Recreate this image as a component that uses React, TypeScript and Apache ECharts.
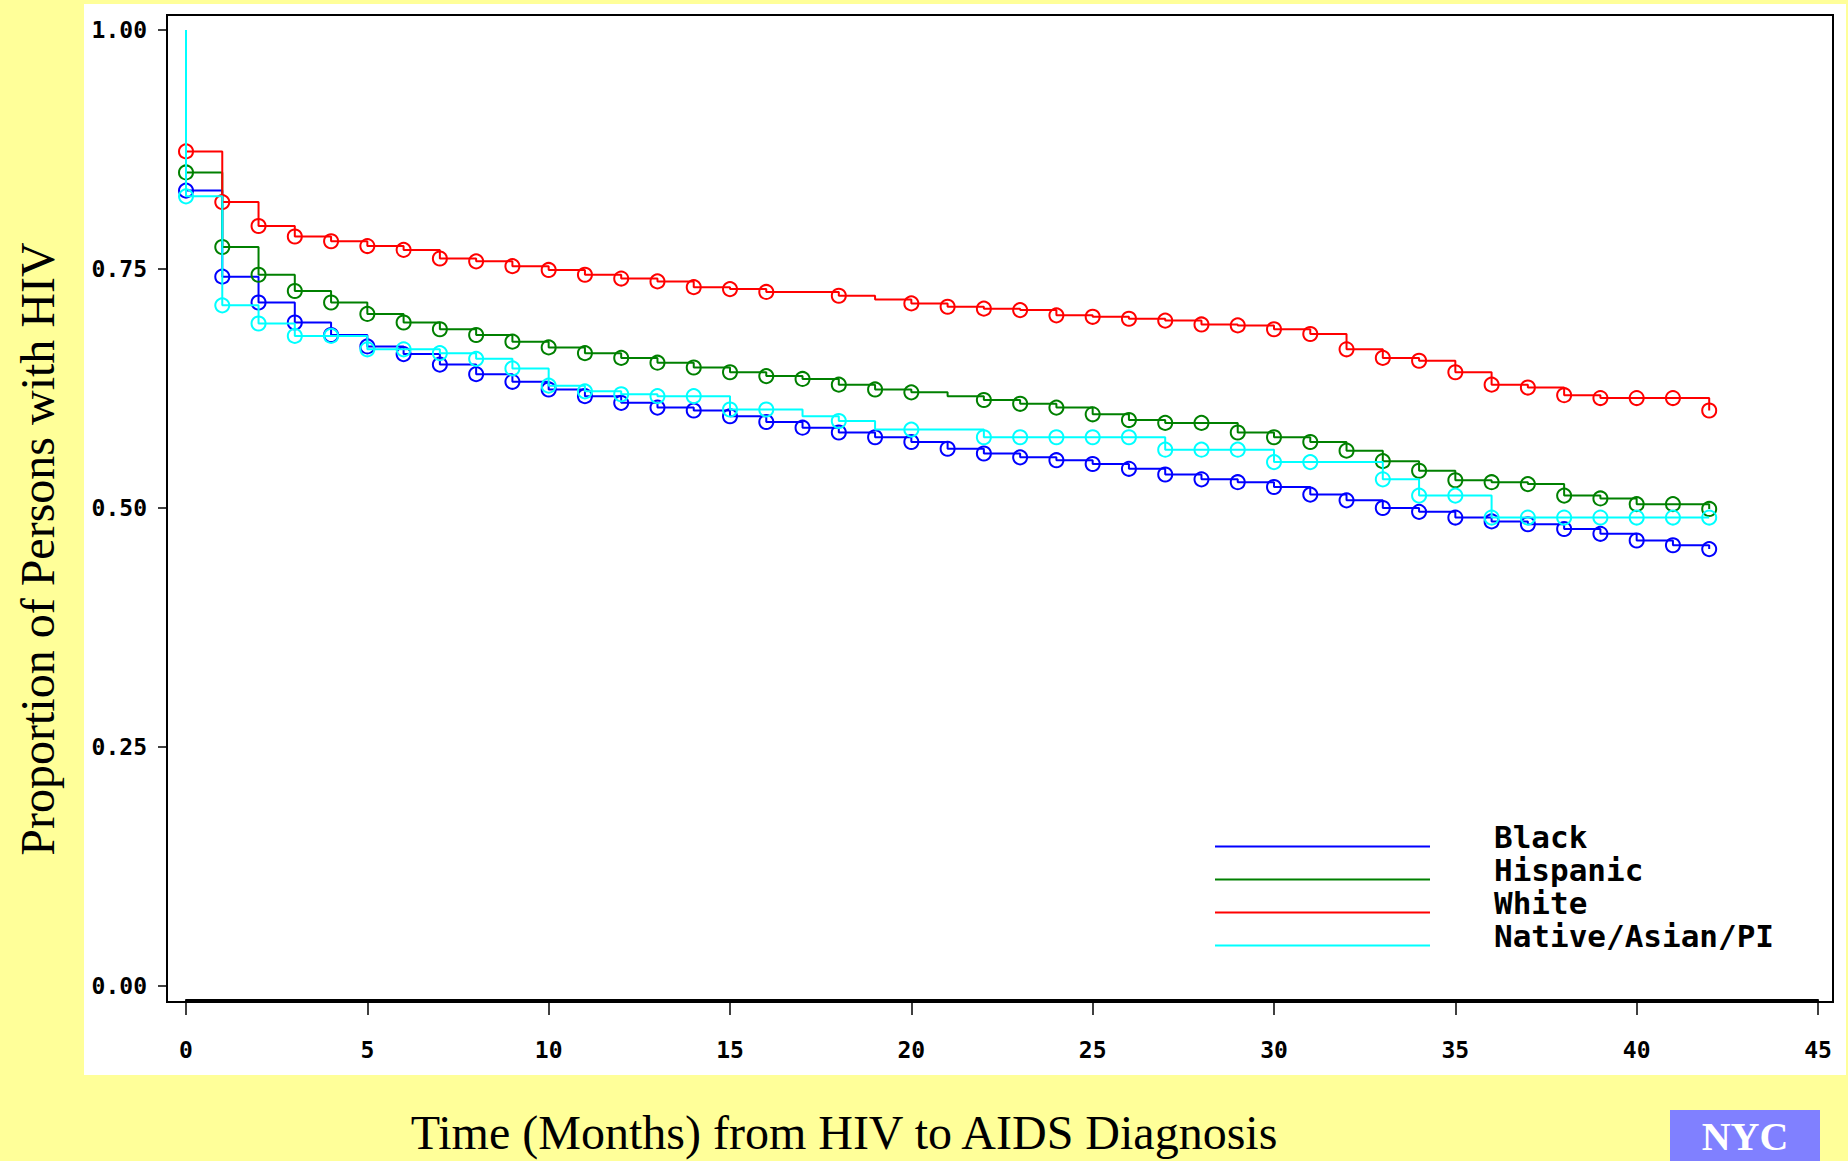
import React, { useEffect, useRef } from "react";
import * as echarts from "echarts";

// Months after HIV diagnosis (x values)
const MONTHS = [
  0, 1, 2, 3, 4, 5, 6, 7, 8, 9, 10, 11, 12, 13, 14, 15, 16, 17, 18, 19, 20,
  21, 22, 23, 24, 25, 26, 27, 28, 29, 30, 31, 32, 33, 34, 35, 36, 37, 38, 39,
  40, 41, 42,
];

// Starting proportion (all curves begin at 1.00 at time 0)
const START_VALUE = 1.0;

// Kaplan-Meier estimates, one value per month
const BLACK = [
  0.832, 0.742, 0.715, 0.694, 0.681, 0.669, 0.661, 0.65, 0.64, 0.632, 0.624,
  0.617, 0.61, 0.605, 0.602, 0.596, 0.59, 0.584, 0.579, 0.574, 0.569, 0.562,
  0.557, 0.553, 0.55, 0.546, 0.541, 0.535, 0.53, 0.527, 0.522, 0.514, 0.508,
  0.5, 0.496, 0.49, 0.486, 0.483, 0.478, 0.473, 0.466, 0.461, 0.457,
];
const HISPANIC = [
  0.851, 0.773, 0.744, 0.727, 0.715, 0.703, 0.694, 0.687, 0.681, 0.674, 0.668,
  0.662, 0.657, 0.652, 0.647, 0.642, 0.638, 0.635, 0.629, 0.624, 0.621, 0.617,
  0.613, 0.609, 0.605, 0.598, 0.592, 0.589, 0.589, 0.579, 0.574, 0.569, 0.56,
  0.549, 0.539, 0.529, 0.527, 0.525, 0.513, 0.51, 0.504, 0.504, 0.499,
];
const WHITE = [
  0.873, 0.82, 0.795, 0.784, 0.779, 0.774, 0.77, 0.761, 0.758, 0.753, 0.749,
  0.744, 0.74, 0.737, 0.731, 0.729, 0.726, 0.726, 0.722, 0.718, 0.714, 0.7105,
  0.7085, 0.707, 0.7015, 0.7, 0.698, 0.696, 0.692, 0.691, 0.687, 0.682, 0.666,
  0.657, 0.654, 0.642, 0.629, 0.626, 0.618, 0.615, 0.615, 0.615, 0.602,
];
const NATIVE = [
  0.826, 0.712, 0.693, 0.68, 0.68, 0.666, 0.666, 0.662, 0.656, 0.646, 0.628,
  0.622, 0.619, 0.617, 0.617, 0.603, 0.603, 0.596, 0.591, 0.582, 0.582, 0.582,
  0.574, 0.574, 0.574, 0.574, 0.574, 0.561, 0.561, 0.561, 0.548, 0.548, 0.548,
  0.53, 0.513, 0.513, 0.49, 0.49, 0.49, 0.49, 0.49, 0.49, 0.49,
];

// Months at which no censoring circle is drawn
const NO_MARK_BLACK: number[] = [];
const NO_MARK_HISPANIC = [21];
const NO_MARK_WHITE = [17, 19];
const NO_MARK_NATIVE = [17, 19, 21, 32];

const SERIES_NAMES = ["Black", "Hispanic", "White", "Native/Asian/PI"];
const SERIES_COLORS = ["#0000FF", "#008000", "#FF0000", "#00FFFF"];

const X_TITLE = "Time (Months) from HIV to AIDS Diagnosis";
const Y_TITLE = "Proportion of Persons with HIV";
const BADGE = "NYC";

const MONO = "'DejaVu Sans Mono', 'Liberation Mono', monospace";
const SERIF = "'Liberation Serif', 'DejaVu Serif', serif";

// legend key: a line sitting at the bottom of a 215x22 box (the tiny top stroke only fixes the box)
const LEGEND_ICON = "path://M0,0 L1,0 M0,20 L215,20 L215,22 L0,22 Z";

function makeData(values: number[], noMark: number[]) {
  return [
    { value: [MONTHS[0], START_VALUE], symbol: "none" },
    ...values.map((v, i) => ({
      value: [MONTHS[i], v],
      symbol: noMark.includes(MONTHS[i]) ? "none" : "circle",
    })),
  ];
}

export default function App() {
  const ref = useRef<HTMLDivElement>(null);

  useEffect(() => {
    if (!ref.current) return;
    const chart = echarts.init(ref.current, undefined, { renderer: "svg" });

    const allValues = [BLACK, HISPANIC, WHITE, NATIVE];
    const noMarks = [NO_MARK_BLACK, NO_MARK_HISPANIC, NO_MARK_WHITE, NO_MARK_NATIVE];

    const series = SERIES_NAMES.map((name, i) => ({
      type: "line",
      name,
      step: "end",
      data: makeData(allValues[i], noMarks[i]),
      symbolSize: 14,
      showAllSymbol: true,
      color: SERIES_COLORS[i],
      lineStyle: { color: SERIES_COLORS[i], width: 2 },
      itemStyle: {
        color: "transparent",
        borderColor: SERIES_COLORS[i],
        borderWidth: 2,
      },
      emphasis: { disabled: true },
      z: 2 + i,
    }));

    const axisFont = {
      fontFamily: MONO,
      fontWeight: "bold" as const,
      fontSize: 23,
      color: "#000",
    };

    chart.setOption({
      animation: false,
      backgroundColor: "#FFFF99",
      grid: { left: 186, right: 30, top: 30, bottom: 173 },
      xAxis: {
        type: "value",
        min: 0,
        max: 45,
        interval: 5,
        offset: 14,
        axisLine: { show: true, onZero: false, lineStyle: { color: "#000", width: 2 } },
        axisTick: { show: true, length: 15, lineStyle: { color: "#000", width: 1.5 } },
        axisLabel: { margin: 38, ...axisFont },
        splitLine: { show: false },
        name: X_TITLE,
        nameLocation: "middle",
        nameGap: 108,
        nameTextStyle: {
          fontFamily: SERIF,
          fontSize: 48,
          color: "#000",
          padding: [0, 316, 0, 0],
        },
      },
      yAxis: {
        type: "value",
        min: 0,
        max: 1,
        interval: 0.25,
        offset: 19,
        axisLine: { show: true, onZero: false, lineStyle: { color: "#000", width: 2 } },
        axisTick: { show: true, length: 9, lineStyle: { color: "#000", width: 1.5 } },
        axisLabel: {
          margin: 20,
          formatter: (v: number) => v.toFixed(2),
          ...axisFont,
        },
        splitLine: { show: false },
        name: Y_TITLE,
        nameLocation: "middle",
        nameRotate: 90,
        nameGap: 106,
        nameTextStyle: {
          fontFamily: SERIF,
          fontSize: 48,
          color: "#000",
          padding: [0, 82, 0, 0],
        },
      },
      legend: {
        orient: "vertical",
        left: 1215,
        top: 821,
        padding: 0,
        itemGap: 2,
        itemWidth: 215,
        itemHeight: 22,
        icon: LEGEND_ICON,
        symbolKeepAspect: false,
        selectedMode: false,
        textStyle: {
          fontFamily: MONO,
          fontWeight: "bold",
          fontSize: 31,
          color: "#000",
          padding: [0, 0, 0, 59],
        },
        data: SERIES_NAMES.map((n, i) => ({
          name: n,
          itemStyle: { color: SERIES_COLORS[i], borderWidth: 0 },
        })),
      },
      graphic: [
        {
          type: "rect",
          z: -100,
          silent: true,
          shape: { x: 84, y: 4, width: 1762, height: 1071 },
          style: { fill: "#FFFFFF" },
        },
        {
          type: "rect",
          z: 100,
          silent: true,
          shape: { x: 167, y: 15, width: 1666, height: 987 },
          style: { fill: "none", stroke: "#000", lineWidth: 2 },
        },
        {
          type: "rect",
          silent: true,
          shape: { x: 1670, y: 1110, width: 150, height: 60 },
          style: { fill: "#8080FF" },
        },
        {
          type: "text",
          silent: true,
          x: 1745,
          y: 1136,
          style: {
            text: BADGE,
            fill: "#FFFFFF",
            fontFamily: SERIF,
            fontWeight: "bold",
            fontSize: 40,
            align: "center",
            verticalAlign: "middle",
          },
        },
      ],
      series,
    });

    return () => chart.dispose();
  }, []);

  return (
    <div
      ref={ref}
      style={{ position: "fixed", left: 0, top: 0, width: 1848, height: 1161 }}
    />
  );
}
